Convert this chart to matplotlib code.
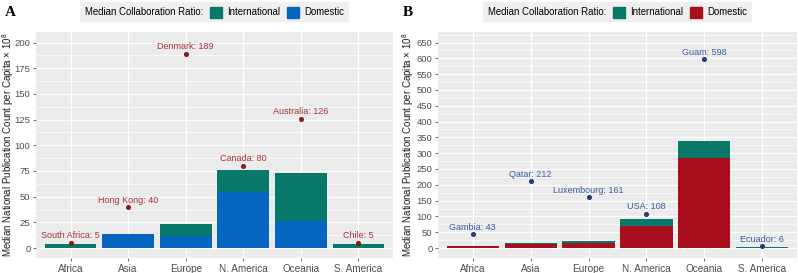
import matplotlib
matplotlib.use("Agg")
import matplotlib.pyplot as plt
from matplotlib.patches import Patch

plt.rcParams['font.family'] = ['Liberation Sans', 'DejaVu Sans']
plt.rcParams['mathtext.fontset'] = 'custom'
plt.rcParams['mathtext.rm'] = 'Liberation Sans'
plt.rcParams['mathtext.it'] = 'Liberation Sans:italic'

# data
regions = ["Africa", "Asia", "Europe", "N. America", "Oceania", "S. America"]

# panel A
dom_a = [0.4, 13.5, 12, 55, 26, 0.3]
intl_a = [3.2, 0.5, 11, 20.5, 47, 3.7]
top_a_names = ["South Africa", "Hong Kong", "Denmark", "Canada", "Australia", "Chile"]
top_a_vals = [5, 40, 189, 80, 126, 5]

# panel B
dom_b = [5, 12, 16, 71, 285, 1.5]
intl_b = [1, 5, 6, 22, 53, 0.5]
top_b_names = ["Gambia", "Qatar", "Luxembourg", "USA", "Guam", "Ecuador"]
top_b_vals = [43, 212, 161, 108, 598, 6]

GREEN = "#08786A"
BLUE = "#0565C1"
RED = "#A80E1B"


def draw_panel(ax, dom, intl, names, vals, dom_col, txt_col, pt_col, ylim, major, letter, lab_x, let_x):
    x = range(1, len(regions) + 1)
    ax.set_facecolor("#EBEBEB")
    for s in ax.spines.values():
        s.set_visible(False)
    ax.bar(x, dom, width=0.9, color=dom_col, zorder=3)
    ax.bar(x, intl, bottom=dom, width=0.9, color=GREEN, zorder=3)
    ax.scatter(x, vals, s=7, color=pt_col, zorder=4)
    for xi, n, v in zip(x, names, vals):
        ax.annotate(f"{n}: {v}", (xi, v), xytext=(0, 5), textcoords="offset points",
                    ha="center", va="center", fontsize=6.5, color=txt_col, zorder=5)
    ax.set_xlim(0.4, 6.6)
    ax.set_ylim(*ylim)
    ax.set_xticks(list(x))
    ax.set_xticklabels(regions, fontsize=7.2)
    ax.set_yticks(range(0, int(ylim[1]) + 1, major))
    ax.set_yticks([m + major / 2 for m in range(0, int(ylim[1]) - major // 2 + 1, major)], minor=True)
    ax.grid(which="major", color="white", linewidth=0.9, zorder=0)
    ax.grid(which="minor", axis="y", color="white", linewidth=0.45, zorder=0)
    ax.set_axisbelow(True)
    ax.tick_params(which="major", length=2.5, width=0.5, color="#333333",
                   labelcolor="#4D4D4D", pad=1.5)
    ax.tick_params(axis="y", labelsize=6.8)
    ax.tick_params(which="minor", length=0)
    ax.set_ylabel("Median National Publication Count per Capita \u00d7 $10^8$", fontsize=7.0,
                  color="#1A1A1A", va="center")
    ax.yaxis.set_label_coords(lab_x, 0.5)
    handles = [Patch(color=GREEN), Patch(color=dom_col)]
    leg = ax.legend(handles, ["International", "Domestic"], ncol=2, loc="center",
                    bbox_to_anchor=(0.5, 1.088), fontsize=6.9, title="Median Collaboration Ratio:",
                    title_fontsize=6.9, frameon=True, facecolor="#EFEFEF", edgecolor="none",
                    fancybox=False, handlelength=1.3, handleheight=1.4, handletextpad=0.5,
                    columnspacing=0.7, borderpad=0.5)
    leg.get_frame().set_alpha(1)
    # put the title to the left of the keys, ggplot style
    c = leg.get_children()[0]
    title = c.get_children()[0]
    hpack = c.get_children()[1]
    c._children = [hpack]
    hpack._children = [title] + hpack.get_children()
    ax.text(let_x, 1.088, letter, transform=ax.transAxes, fontsize=11, fontweight="bold",
            family="Liberation Serif", va="center", ha="left")


fig = plt.figure(figsize=(7.98, 2.73), dpi=100)
ax1 = fig.add_axes([36 / 798, 15 / 273, 357 / 798, 226 / 273])
ax2 = fig.add_axes([438 / 798, 15 / 273, 359 / 798, 226 / 273])

draw_panel(ax1, dom_a, intl_a, top_a_names, top_a_vals, BLUE, "#A8323A", "#8B1A1A",
           (-9.7, 210.3), 25, "A", -0.079, -0.087)
draw_panel(ax2, dom_b, intl_b, top_b_names, top_b_vals, RED, "#3A5BA3", "#1F3F80",
           (-31.6, 683.4), 50, "B", -0.084, -0.097)

fig.savefig("out.png", dpi=100)
